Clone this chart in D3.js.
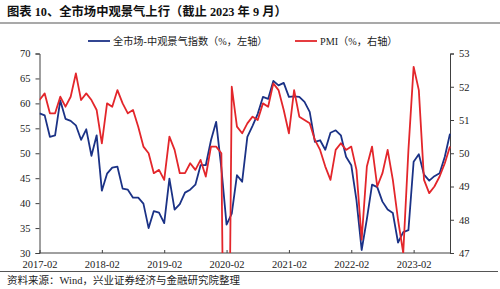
<!DOCTYPE html>
<html lang="zh">
<head>
<meta charset="UTF-8">
<title>全市场中观景气上行</title>
<script src="https://d3js.org/d3.v7.min.js"></script>
<style>
    body { margin: 0; background: #fff; }
    svg { display: block; }
    .axis path, .axis line { stroke: #404040; }
    .axis text { font-family: "Liberation Serif", serif; font-size: 10.5px; fill: #222; }
</style>
</head>
<body>
<div id="chart"></div>
<script>
// months 2017-02 .. 2023-09
const months = [];
for (let y = 2017; y <= 2023; y++) {
    for (let m = 1; m <= 12; m++) {
        if ((y === 2017 && m < 2) || (y === 2023 && m > 9)) continue;
        months.push(y + "-" + String(m).padStart(2, "0"));
    }
}

// 全市场-中观景气指数 (left axis)
const sentiment = [
    58.0, 57.6, 53.3, 53.6, 60.6, 56.9, 56.5, 55.6, 52.7, 54.8, 49.5, 53.6,
    42.5, 45.9, 47.1, 47.3, 42.9, 42.7, 41.1, 41.1, 39.9, 35.0, 38.4, 38.1,
    36.0, 44.9, 38.7, 39.8, 42.1, 42.7, 43.7, 47.6, 47.6, 52.6, 56.3, 47.0,
    35.7, 37.9, 45.6, 44.3, 53.3, 55.5, 57.9, 61.3, 60.9, 64.5, 63.6, 64.1,
    61.3, 61.4, 61.3, 60.3, 58.3, 52.3, 52.6, 50.7, 54.1, 54.6, 53.6, 49.3,
    47.6, 40.6, 30.6, 36.8, 43.7, 43.2, 40.3, 38.7, 38.0, 32.1, 34.2, 34.6,
    48.3, 49.8, 45.7, 44.5, 45.4, 46.0, 49.3, 53.9
];

// PMI (right axis)
const pmi = [
    51.6, 51.8, 51.2, 51.2, 51.7, 51.4, 51.7, 52.4, 51.6, 51.8, 51.6,
    51.3, 50.3, 51.5, 51.4, 51.9, 51.5, 51.2, 51.3, 50.8, 50.2, 50.0, 49.4,
    49.5, 49.2, 50.5, 50.1, 49.4, 49.4, 49.7, 49.5, 49.8, 49.3, 50.2, 50.2,
    50.0, 35.7, 52.0, 50.8, 50.6, 50.9, 51.1, 51.0, 51.5, 51.4, 52.1, 51.9,
    51.3, 50.6, 51.9, 51.1, 51.0, 50.9, 50.4, 50.1, 49.6, 49.2, 50.1, 50.3,
    50.1, 50.2, 49.5, 47.4, 49.6, 50.2, 49.0, 49.4, 50.1, 49.2, 48.0, 47.0,
    50.1, 52.6, 51.9, 49.2, 48.8, 49.0, 49.3, 49.7, 50.2
];

const xTicks = ["2017-02", "2018-02", "2019-02", "2020-02", "2021-02", "2022-02", "2023-02"];
const leftTicks = [30, 35, 40, 45, 50, 55, 60, 65, 70];
const rightTicks = [47, 48, 49, 50, 51, 52, 53];

const W = 500, H = 289;
const plotL = 39.5, plotR = 450, plotT = 53.5, plotB = 253;

const svg = d3.select("#chart").append("svg")
    .attr("width", W)
    .attr("height", H);

// title + rules
svg.append("text")
    .attr("x", 7).attr("y", 16)
    .style("font-family", "'Liberation Serif', 'Noto Sans CJK SC', serif")
    .style("font-weight", "bold")
    .style("font-size", "12.3px")
    .attr("fill", "#111")
    .text("图表 10、全市场中观景气上行（截止 2023 年 9 月）");

svg.append("line")
    .attr("x1", 0).attr("x2", W).attr("y1", 23).attr("y2", 23)
    .attr("stroke", "#8c8c8c").attr("stroke-width", 1.6);

svg.append("line")
    .attr("x1", 0).attr("x2", 498).attr("y1", 271.5).attr("y2", 271.5)
    .attr("stroke", "#555").attr("stroke-width", 1);

svg.append("text")
    .attr("x", 7).attr("y", 284)
    .style("font-family", "'Liberation Serif', 'Noto Sans CJK SC', serif")
    .style("font-size", "10.5px")
    .attr("fill", "#222")
    .text("资料来源：Wind，兴业证券经济与金融研究院整理");

// scales
const x = d3.scalePoint().domain(months).range([plotL, plotR]);
const yL = d3.scaleLinear().domain([30, 70]).range([plotB, plotT]);
const yR = d3.scaleLinear().domain([47, 53]).range([plotB, plotT]);

// axes
svg.append("g")
    .attr("class", "axis")
    .attr("transform", "translate(0," + plotB + ")")
    .call(d3.axisBottom(x).tickValues(xTicks).tickSizeInner(-3).tickSizeOuter(0).tickPadding(8))
    .call(g => g.select(".domain").attr("d", "M" + plotL + ",0H" + plotR));

svg.append("g")
    .attr("class", "axis")
    .attr("transform", "translate(" + plotL + ",0)")
    .call(d3.axisLeft(yL).tickValues(leftTicks).tickFormat(d3.format("d")).tickSize(4).tickPadding(5));

svg.append("g")
    .attr("class", "axis")
    .attr("transform", "translate(" + plotR + ",0)")
    .call(d3.axisRight(yR).tickValues(rightTicks).tickFormat(d3.format("d")).tickSize(4).tickPadding(5));

// clip so the 2020-02 PMI dive runs off the bottom
svg.append("clipPath").attr("id", "plot")
    .append("rect")
    .attr("x", plotL).attr("y", plotT - 10)
    .attr("width", plotR - plotL + 2).attr("height", plotB - plotT + 10);

const lineL = d3.line().x((d, i) => x(months[i])).y(d => yL(d));
const lineR = d3.line().x((d, i) => x(months[i])).y(d => yR(d));

const blue = "#1b3286", red = "#e3262b";

svg.append("path")
    .datum(sentiment)
    .attr("clip-path", "url(#plot)")
    .attr("fill", "none")
    .attr("stroke", blue)
    .attr("stroke-width", 1.8)
    .attr("stroke-linejoin", "round")
    .attr("d", lineL);

svg.append("path")
    .datum(pmi)
    .attr("clip-path", "url(#plot)")
    .attr("fill", "none")
    .attr("stroke", red)
    .attr("stroke-width", 1.8)
    .attr("stroke-linejoin", "round")
    .attr("d", lineR);

// legend
const legend = [
    {label: "全市场-中观景气指数（%，左轴）", color: blue, x: 88},
    {label: "PMI（%，右轴）", color: red, x: 295}
];
legend.forEach(l => {
    svg.append("line")
        .attr("x1", l.x).attr("x2", l.x + 22)
        .attr("y1", 41).attr("y2", 41)
        .attr("stroke", l.color).attr("stroke-width", 1.8);
    svg.append("text")
        .attr("x", l.x + 25).attr("y", 44.5)
        .style("font-family", "'Liberation Serif', 'Noto Sans CJK SC', serif")
        .style("font-size", "10.2px")
        .attr("fill", "#222")
        .text(l.label);
});
</script>
</body>
</html>
